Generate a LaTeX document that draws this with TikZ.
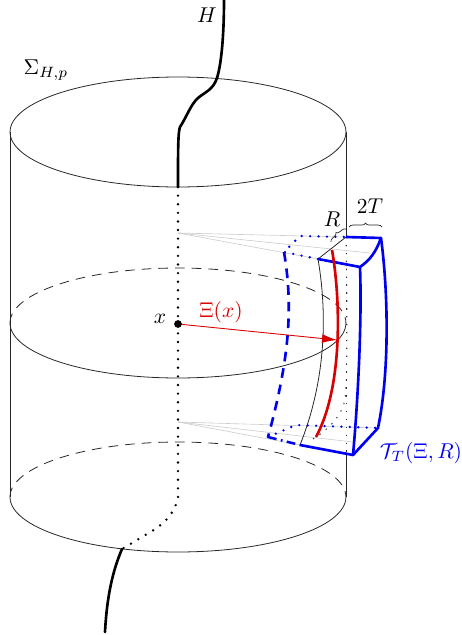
\documentclass[tikz,border=0pt]{standalone}
\usepackage{amsmath}
\usepackage{xcolor}
\usetikzlibrary{
    arrows.meta,
    calc,
    decorations.pathreplacing
}
\definecolor{tubeblue}{HTML}{0000F0}
\definecolor{axisred}{HTML}{D80000}
\definecolor{rulegray}{HTML}{CCCCCC}
\tikzset{
    cyl line/.style={
        line width=0.45pt, color=black!85
    },
    cyl hidden/.style={
        cyl line, dash pattern=on 5.5pt off 4pt
    },
    cyl dots/.style={
        line width=0.55pt, color=black!80, dash pattern=on 0.8pt off 3.7pt
    },
    hcurve/.style={
        line width=1.5pt, color=black, line cap=round
    },
    hdots/.style={
        line width=1.5pt, color=black, line cap=round, dash pattern=on 0pt off 4.9pt
    },
    tube edge/.style={
        line width=1.5pt, color=tubeblue, line join=round
    },
    tube dots/.style={
        line width=1.5pt, color=tubeblue, line cap=round, dash pattern=on 0pt off 4.8pt
    },
    tube dash/.style={
        line width=1.5pt, color=tubeblue, dash pattern=on 5.5pt off 4pt
    },
    tube dashdot/.style={
        line width=1.4pt, color=tubeblue, dash pattern=on 5pt off 2.5pt on 1pt off 2.5pt
    },
    ray/.style={
        line width=0.35pt, color=rulegray
    },
    size brace/.style={
        decorate, decoration={brace, amplitude=2.2pt}, line width=0.4pt, color=black!85
    },
    plabel/.style={
        inner sep=0pt, scale=1.22
    },
}

\begin{document}
\begin{tikzpicture}[x=0.02cm, y=-0.02cm]
    \useasboundingbox (0,0) rectangle (461,635);

    % Corners of the tube
    \coordinate (topbackl) at (300,236);
    \coordinate (topbackm) at (346,237);
    \coordinate (topbackr) at (381,238);
    \coordinate (topfrontl) at (284,252);
    \coordinate (topfrontm) at (318,259);
    \coordinate (topfrontr) at (360,267);
    \coordinate (botbackl) at (296,425);
    \coordinate (botbackr) at (378,428);
    \coordinate (botfrontl) at (268,437);
    \coordinate (botfrontm) at (300,445);
    \coordinate (botfrontr) at (353,455);
    \coordinate (toppoint) at (178,233);
    \coordinate (botpoint) at (178,422);
    \coordinate (xpoint) at (178,324);
    \coordinate (axistop) at (332,250);
    \coordinate (axisbot) at (316,437);
    \coordinate (axismid) at (337,340);

    % Rays towards the tube
    \draw[ray] (toppoint) -- (topbackm);
    \draw[ray] (toppoint) -- (370,253);
    \draw[ray] (toppoint) -- (topfrontm);
    \draw[ray] (botpoint) -- (botbackr);
    \draw[ray] (botpoint) -- (353,442);
    \draw[ray] (botpoint) -- (botfrontm);

    % Cylinder
    \draw[cyl line] (178,132) ellipse[x radius=3.36cm, y radius=1.1cm];
    \draw[cyl line] (10,132) -- (10,497);
    \draw[cyl line] (346,132) -- (topbackm);
    \draw[cyl dots] (topbackm) -- (346,455);
    \draw[cyl line] (346,455) -- (346,497);
    \draw[cyl hidden] (10,323) arc[start angle=180, end angle=0, x radius=3.36cm, y radius=1.1cm];
    \draw[cyl line] (10,323) arc[start angle=180, end angle=360, x radius=3.36cm, y radius=1.1cm];
    \draw[cyl hidden] (10,497) arc[start angle=180, end angle=0, x radius=3.36cm, y radius=1.1cm];
    \draw[cyl line] (10,497) arc[start angle=180, end angle=360, x radius=3.36cm, y radius=1.1cm];

    % Curve H
    \draw[hcurve] (224,0) .. controls (224,30) and (222,62) .. (217,78)
        .. controls (213,90) and (205,92) .. (198,98)
        .. controls (191,104) and (186,118) .. (180,127)
        .. controls (178,132) and (178,150) .. (178,187);
    \draw[hdots] (178,187) -- (178,498) .. controls (174,515) and (163,525) .. (147,534) -- (122,549);
    \draw[hcurve] (122,549) .. controls (113,570) and (107,595) .. (105,632);

    % Hidden edges of the tube
    \draw[cyl dots] (topbackm) .. controls (347,300) and (348,370) .. (345,400)
        .. controls (340,420) and (325,432) .. (308,442);
    \draw[cyl line] (topfrontm) -- (topbackm);
    \draw[cyl line] (topfrontm) .. controls (325,300) and (330,370) .. (botfrontm);
    \draw[tube dots] (topfrontm) -- (topfrontl) -- (topbackl) -- (topbackm);
    \draw[tube dots] (botfrontl) -- (botbackl) -- (botbackr);
    \draw[tube dash] (topfrontl) .. controls (292,300) and (292,350) .. (botfrontl);
    \draw[tube dashdot] (botfrontl) -- (botfrontm);

    % Front edges of the tube
    \draw[tube edge] (topbackm) -- (topbackr) .. controls (376,252) and (370,260) .. (topfrontr) -- (topfrontm);
    \draw[tube edge] (topbackr) .. controls (388,290) and (390,370) .. (botbackr) -- (botfrontr) -- (botfrontm);
    \draw[tube edge] (topfrontr) .. controls (362,320) and (358,400) .. (botfrontr);

    % Axis
    \draw[line width=1.5pt, axisred] (axistop) .. controls (340,295) and (344,385) .. (axisbot);

    % Arrow from x
    \draw[-{Latex[length=8.5pt, width=5pt]}, line width=0.5pt, axisred] (xpoint) -- (axismid);
    \fill (xpoint) circle (2.2pt);

    % Braces
    \draw[size brace] (331,242) -- (346,229);
    \draw[size brace] (349,227) -- (382,227);

    % Labels
    \node[plabel] (hlabel) at (207,15) {$H$};
    \node[plabel] (sigmalabel) at (46,70) {$\Sigma_{H,p}$};
    \node[plabel] (xlabel) at (160,319) {$x$};
    \node[plabel, text=axisred] (xilabel) at (221,312) {$\Xi(x)$};
    \node[plabel] (rlabel) at (332,219) {$R$};
    \node[plabel] (tlabel) at (370,206) {$2T$};
    \node[plabel, text=tubeblue] (tubelabel) at (421,453) {$\mathcal{T}_T(\Xi,R)$};
\end{tikzpicture}
\end{document}
